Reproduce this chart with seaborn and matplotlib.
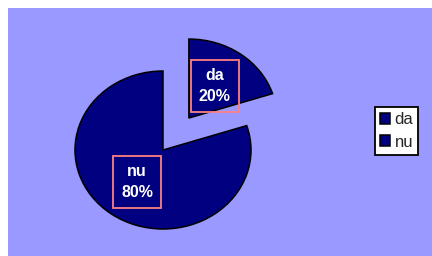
import matplotlib
matplotlib.use("Agg")
import matplotlib.pyplot as plt
import seaborn as sns

# data
categories = ["da", "nu"]
shares = [20, 80]
explode = [0.5, 0.0]

sns.set_theme(style="white")
plt.rcParams["font.family"] = ["Liberation Sans", "DejaVu Sans"]

navy = "#000080"
bg = "#9999FF"
box_edge = "#FF8080"

W, H = 432, 256
fig = plt.figure(figsize=(W / 100, H / 100), dpi=100, facecolor="white")

# blue plot area starts 8px in from the left/top
ax = fig.add_axes([8 / W, 0, (W - 8) / W, (H - 8) / H], facecolor=bg)

labels = [f"{c}\n{v}%" for c, v in zip(categories, shares)]
wedges, texts = ax.pie(
    shares, explode=explode, labels=labels, labeldistance=0.5,
    startangle=90, counterclock=False, frame=True,
    colors=[navy, navy],
    wedgeprops=dict(edgecolor="black", linewidth=1.1),
)
for t in texts:
    t.set_ha("center")
    t.set_va("center")
    t.set_color("white")
    t.set_fontweight("bold")
    t.set_fontsize(11.5)
    t.set_linespacing(1.55)
    t.set_bbox(dict(boxstyle="square,pad=0.5", facecolor="none",
                    edgecolor=box_edge, linewidth=1.3))

# slightly squashed pie: 88px per unit across, 79px per unit down
ax.set_aspect("auto")
px_x, px_y = 88, 79
ax_w, ax_h = W - 8, H - 8
cx, cy = 163 - 8, H - 150
ax.set_xlim(-cx / px_x, (ax_w - cx) / px_x)
ax.set_ylim(-cy / px_y, (ax_h - cy) / px_y)
ax.set_xticks([])
ax.set_yticks([])
for s in ax.spines.values():
    s.set_visible(False)

leg = fig.legend(
    wedges, categories, loc="center", bbox_to_anchor=(396.5 / W, 1 - 131 / H),
    bbox_transform=fig.transFigure, fontsize=12, frameon=True, fancybox=False,
    framealpha=1, edgecolor="black", handlelength=0.65, handleheight=0.65,
    handletextpad=0.25, labelspacing=0.45, borderpad=0.3, borderaxespad=0,
)
leg.get_frame().set_linewidth(1.3)
leg.get_frame().set_facecolor("white")

fig.savefig("out.png", dpi=100, facecolor="white")
